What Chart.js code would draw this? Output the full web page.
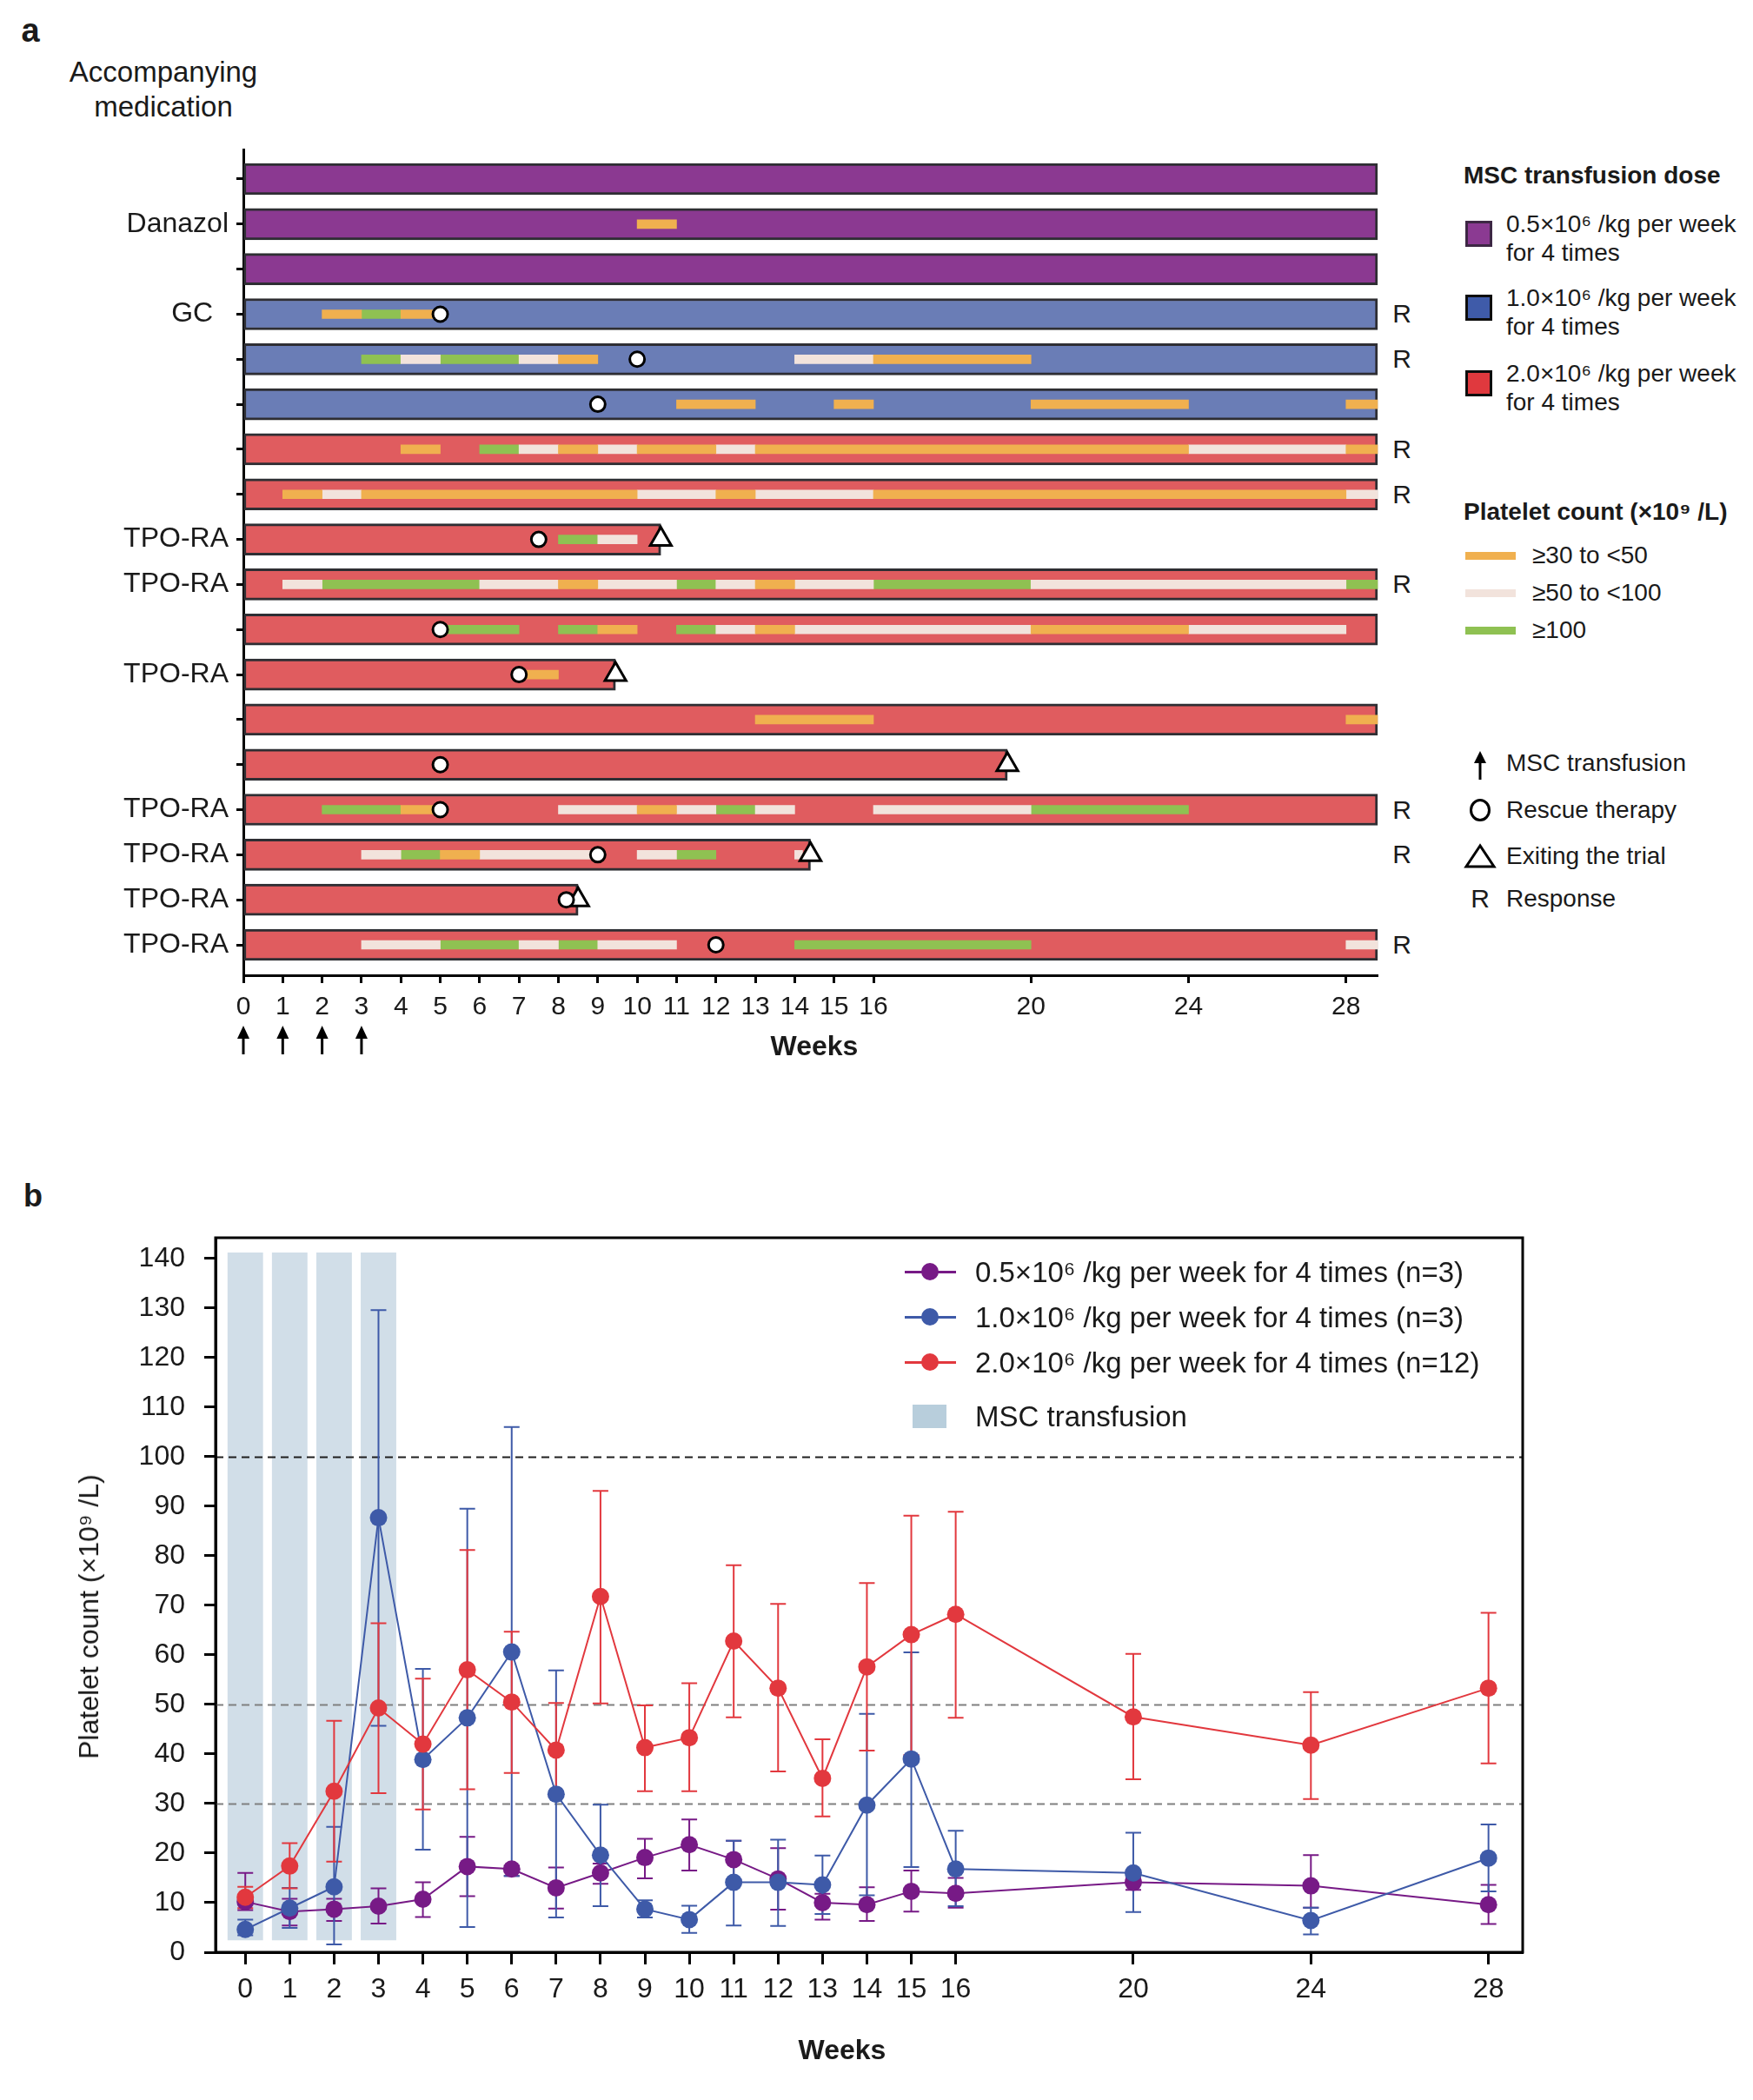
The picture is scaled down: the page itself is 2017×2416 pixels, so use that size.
<!DOCTYPE html>
<html>
<head>
<meta charset="utf-8">
<title>MSC transfusion: swimmer plot and platelet counts</title>
<script src="https://cdn.jsdelivr.net/npm/chart.js@4.4.1/dist/chart.umd.min.js"></script>
<style>
html,body{margin:0;padding:0;background:#ffffff;}
#page{position:relative;width:2017px;height:2416px;overflow:hidden;font-family:"Liberation Sans",Arial,Helvetica,sans-serif;color:#1a1a1a;background:#fff;}
#page canvas{position:absolute;}
.t{position:absolute;white-space:pre;line-height:1;}
.sw{position:absolute;box-sizing:border-box;}
</style>
</head>
<body>
<div id="page">
<canvas id="chartA" width="1600" height="1100" style="left:0px;top:150px;"></canvas>
<canvas id="chartB" width="2017" height="1016" style="left:0px;top:1400px;"></canvas>
</div>
<script>
// ================= Panel a data =================
const rowLabels = ['', 'Danazol', '', 'GC  ', '', '', '', '', 'TPO-RA', 'TPO-RA', '', 'TPO-RA', '', '', 'TPO-RA', 'TPO-RA', 'TPO-RA', 'TPO-RA'];
const rowDose = ['0.5','0.5','0.5','1.0','1.0','1.0','2.0','2.0','2.0','2.0','2.0','2.0','2.0','2.0','2.0','2.0','2.0','2.0'];
const rowEndWeek = [28.8,28.8,28.8,28.8,28.8,28.8,28.8,28.8,10.6,28.8,28.8,9.45,28.8,19.4,28.8,14.4,8.5,28.8];
const rowResponse = [false,false,false,true,true,false,true,true,false,true,false,false,false,false,true,true,false,true];
const rescueWeek = [null,null,null,5,10,9,null,null,7.5,null,5,7,null,5,5,9,8.2,12];
const exitWeek = [null,null,null,null,null,null,null,null,10.6,null,null,9.45,null,19.4,null,14.4,8.5,null];
// [row, fromWeek, toWeek]
const platelet30to50 = [
  [1,10,11],
  [3,2,3],[3,4,5],
  [4,8,9],[4,16,20],
  [5,11,13],[5,15,16],[5,20,24],[5,28,28.8],
  [6,4,5],[6,8,9],[6,10,12],[6,13,24],[6,28,28.8],
  [7,1,2],[7,3,10],[7,12,13],[7,16,28],
  [9,8,9],[9,13,14],
  [10,9,10],[10,13,14],[10,20,24],
  [11,7,8],
  [12,13,16],[12,28,28.8],
  [14,4,5],[14,10,11],
  [15,5,6]
];
const platelet50to100 = [
  [4,4,5],[4,7,8],[4,14,16],
  [6,7,8],[6,9,10],[6,12,13],[6,24,28],
  [7,2,3],[7,10,12],[7,13,16],[7,28,28.8],
  [8,9,10],
  [9,1,2],[9,6,8],[9,9,11],[9,12,13],[9,14,16],[9,20,28],
  [10,12,13],[10,14,20],[10,24,28],
  [14,8,10],[14,11,12],[14,13,14],[14,16,20],
  [15,3,4],[15,6,8.85],[15,10,11],[15,14,14.2],
  [17,3,5],[17,7,8],[17,9,11],[17,28,28.8]
];
const platelet100 = [
  [3,3,4],
  [4,3,4],[4,5,7],
  [6,6,7],
  [8,8,9],
  [9,2,6],[9,11,12],[9,16,20],[9,28,28.8],
  [10,5,7],[10,8,9],[10,11,12],
  [14,2,4],[14,12,13],[14,20,24],
  [15,4,5],[15,11,12],
  [17,5,7],[17,8,9],[17,14,20]
];
const weekTicksA = [0,1,2,3,4,5,6,7,8,9,10,11,12,13,14,15,16,20,24,28];
const transfusionWeeks = [0,1,2,3];

// ================= Panel b data =================
const weeksB = [0,1,2,3,4,5,6,7,8,9,10,11,12,13,14,15,16,20,24,28];
const mean05 = [10.2,8.2,8.7,9.3,10.7,17.3,16.8,13.0,16.0,19.1,21.7,18.7,14.8,10.0,9.6,12.3,11.9,14.1,13.4,9.6];
const low05  = [8.5,5.4,6.3,5.8,7.1,11.3,15.4,8.8,13.8,14.9,16.5,14.7,8.6,6.6,6.3,8.2,9.0,12.6,9.0,5.7];
const high05 = [16.0,10.8,10.8,12.9,14.1,23.3,17.5,17.1,17.9,22.9,26.8,22.5,21.0,11.8,13.1,16.5,15.0,15.0,19.6,13.6];
const mean10 = [4.6,8.9,13.2,87.7,38.9,47.3,60.6,31.9,19.6,8.7,6.6,14.1,14.1,13.6,29.7,39.0,16.8,16.0,6.4,19.0];
const low10  = [3.4,4.9,1.6,45.7,20.7,5.1,15.4,7.0,9.3,7.0,3.9,5.4,5.3,7.7,11.5,17.2,9.3,8.1,3.6,12.3];
const high10 = [6.6,13.0,25.3,129.6,57.2,89.5,106.0,56.9,29.8,10.5,9.4,22.5,22.7,19.5,48.1,60.5,24.5,24.1,9.0,25.8];
const mean20 = [11.1,17.4,32.5,49.3,42.0,57.0,50.5,40.8,71.8,41.3,43.3,62.8,53.3,35.1,57.6,64.1,68.2,47.5,41.8,53.3];
const low20  = [8.9,12.9,18.3,32.1,28.8,32.9,36.2,31.5,50.2,32.5,32.5,47.4,36.5,27.4,40.7,39.8,47.3,34.9,30.9,38.1];
const high20 = [13.2,22.0,46.7,66.4,55.2,81.2,64.7,50.3,93.1,49.8,54.3,78.1,70.3,43.0,74.5,88.1,88.9,60.2,52.5,68.5];
const yTicksB = [0,10,20,30,40,50,60,70,80,90,100,110,120,130,140];
const thresholdsB = [30,50,100];
const seriesNamesB = ['0.5×10⁶ /kg per week for 4 times (n=3)','1.0×10⁶ /kg per week for 4 times (n=3)','2.0×10⁶ /kg per week for 4 times (n=12)'];

// ================= helpers =================
const FONT = "'Liberation Sans', Arial, Helvetica, sans-serif";
Chart.defaults.font.family = FONT;
Chart.defaults.color = '#1a1a1a';
const page = document.getElementById('page');
function addText(s, x, y, size, o) {
  o = o || {};
  const d = document.createElement('div');
  d.className = 't';
  d.textContent = s;
  d.style.left = x + 'px';
  d.style.top = y + 'px';
  d.style.fontSize = size + 'px';
  if (o.bold) d.style.fontWeight = 'bold';
  const ax = o.align === 'center' ? '-50%' : (o.align === 'right' ? '-100%' : '0');
  d.style.transform = 'translate(' + ax + ',-50%)' + (o.rotate ? ' rotate(' + o.rotate + 'deg)' : '');
  page.appendChild(d);
  return d;
}
function addBox(x, y, w, h, css) {
  const d = document.createElement('div');
  d.className = 'sw';
  d.style.left = x + 'px'; d.style.top = y + 'px';
  d.style.width = w + 'px'; d.style.height = h + 'px';
  Object.assign(d.style, css || {});
  page.appendChild(d);
  return d;
}
function addSvg(x, y, w, h, inner) {
  const d = document.createElement('div');
  d.style.position = 'absolute';
  d.style.left = x + 'px'; d.style.top = y + 'px';
  d.innerHTML = '<svg width="' + w + '" height="' + h + '" xmlns="http://www.w3.org/2000/svg">' + inner + '</svg>';
  page.appendChild(d);
}
function zeroPad(s) { s.paddingTop = 0; s.paddingBottom = 0; s.paddingLeft = 0; s.paddingRight = 0; }

// ================= Panel a chart =================
const doseFill = {'0.5': '#8b3991', '1.0': '#6a7db6', '2.0': '#e05c5f'};
const segData = list => list.map(([r, s, e]) => ({x: [s, e], y: r}));

const arrowsPlugin = {
  id: 'transfusionArrows',
  afterDraw(chart) {
    const ctx = chart.ctx, xs = chart.scales.x;
    const top = chart.chartArea.bottom + 58, bot = top + 33;
    ctx.save();
    ctx.strokeStyle = '#000'; ctx.fillStyle = '#000'; ctx.lineWidth = 3;
    transfusionWeeks.forEach(w => {
      const x = xs.getPixelForValue(w);
      ctx.beginPath(); ctx.moveTo(x, bot); ctx.lineTo(x, top + 10); ctx.stroke();
      ctx.beginPath(); ctx.moveTo(x, top); ctx.lineTo(x - 7, top + 15); ctx.lineTo(x + 7, top + 15); ctx.closePath(); ctx.fill();
    });
    ctx.restore();
  }
};

const chartA = new Chart(document.getElementById('chartA'), {
  type: 'bar',
  data: {
    datasets: [
      {
        type: 'scatter', label: 'Rescue therapy',
        data: rescueWeek.map((w, i) => w === null ? null : {x: w, y: i}).filter(p => p),
        pointStyle: 'circle', pointRadius: 8.5, pointBackgroundColor: '#ffffff',
        pointBorderColor: '#000000', pointBorderWidth: 3, order: 0, clip: false
      },
      {
        type: 'scatter', label: 'Exiting the trial',
        data: exitWeek.map((w, i) => w === null ? null : {x: w, y: i}).filter(p => p),
        pointStyle: 'triangle', pointRadius: 14, pointBackgroundColor: '#ffffff',
        pointBorderColor: '#000000', pointBorderWidth: 3, order: 0, clip: false
      },
      {
        label: '≥30 to <50', data: segData(platelet30to50), backgroundColor: '#f0b04f',
        borderWidth: 0, grouped: false, barThickness: 10, order: 1, clip: false
      },
      {
        label: '≥50 to <100', data: segData(platelet50to100), backgroundColor: '#f2e3dc',
        borderWidth: 0, grouped: false, barThickness: 10, order: 1, clip: false
      },
      {
        label: '≥100', data: segData(platelet100), backgroundColor: '#8fc152',
        borderWidth: 0, grouped: false, barThickness: 10, order: 1, clip: false
      },
      {
        label: 'MSC transfusion dose', data: rowEndWeek.map((e, i) => ({x: [0, e], y: i})),
        backgroundColor: rowDose.map(d => doseFill[d]), borderColor: '#2e2e33', borderWidth: 3,
        borderSkipped: false, grouped: false, barThickness: 36, order: 2, clip: false
      }
    ]
  },
  options: {
    indexAxis: 'y',
    responsive: false,
    animation: false,
    events: [],
    layout: {padding: {left: 0, right: 15, top: 22, bottom: 0}, autoPadding: false},
    plugins: {legend: {display: false}, tooltip: {enabled: false}},
    scales: {
      x: {
        type: 'linear', position: 'bottom', min: 0, max: 28.8, offset: false,
        afterBuildTicks: s => { s.ticks = weekTicksA.map(v => ({value: v})); },
        afterFit: s => { s.height = 128; zeroPad(s); },
        border: {display: true, color: '#000', width: 3},
        grid: {drawOnChartArea: false, drawTicks: true, tickLength: 9, tickWidth: 3, tickColor: '#000', offset: false},
        ticks: {font: {size: 30}, color: '#1a1a1a', padding: 10, maxRotation: 0, autoSkip: false}
      },
      y: {
        type: 'linear', position: 'left', reverse: true, min: -0.656, max: 17.675, offset: false,
        afterBuildTicks: s => { s.ticks = rowLabels.map((_, i) => ({value: i})); },
        afterFit: s => { s.width = 280; zeroPad(s); },
        border: {display: true, color: '#000', width: 3},
        grid: {drawOnChartArea: false, drawTicks: true, tickLength: 8, tickWidth: 3, tickColor: '#000', offset: false},
        ticks: {callback: v => rowLabels[v] !== undefined ? rowLabels[v] : '', font: {size: 32}, color: '#1a1a1a', padding: 9, autoSkip: false}
      }
    }
  },
  plugins: [arrowsPlugin]
});

// ================= Panel b chart =================
const seriesB = [
  {name: seriesNamesB[0], mean: mean05, low: low05, high: high05, color: '#771a86'},
  {name: seriesNamesB[1], mean: mean10, low: low10, high: high10, color: '#3e5aa8'},
  {name: seriesNamesB[2], mean: mean20, low: low20, high: high20, color: '#e2383e'}
];
const SHADE_INDEX = 3;
const bPlugin = {
  id: 'bExtras',
  afterDatasetDraw(chart, args) {
    if (args.index !== SHADE_INDEX) return;
    const ctx = chart.ctx, a = chart.chartArea, xs = chart.scales.x, ys = chart.scales.y;
    ctx.save();
    ctx.lineWidth = 2;
    ctx.setLineDash([9, 6]);
    thresholdsB.forEach(v => {
      ctx.strokeStyle = v === 100 ? '#1f1f1f' : '#808080';
      const py = Math.round(ys.getPixelForValue(v)) + 0.5;
      ctx.beginPath(); ctx.moveTo(a.left, py); ctx.lineTo(a.right, py); ctx.stroke();
    });
    ctx.setLineDash([]);
    ctx.lineWidth = 2;
    seriesB.forEach(s => {
      ctx.strokeStyle = s.color;
      s.mean.forEach((m, i) => {
        const px = xs.getPixelForValue(weeksB[i]);
        const p1 = ys.getPixelForValue(s.low[i]), p2 = ys.getPixelForValue(s.high[i]);
        ctx.beginPath();
        ctx.moveTo(px, p1); ctx.lineTo(px, p2);
        ctx.moveTo(px - 9, p1); ctx.lineTo(px + 9, p1);
        ctx.moveTo(px - 9, p2); ctx.lineTo(px + 9, p2);
        ctx.stroke();
      });
    });
    ctx.restore();
  },
  afterDraw(chart) {
    const ctx = chart.ctx, a = chart.chartArea;
    ctx.save();
    ctx.strokeStyle = '#000'; ctx.lineWidth = 3;
    ctx.strokeRect(a.left, a.top, a.right - a.left, a.bottom - a.top);
    ctx.restore();
  }
};
const lineDs = (s, order) => ({
  type: 'line', label: s.name,
  data: weeksB.map((w, i) => ({x: w, y: s.mean[i]})),
  borderColor: s.color, backgroundColor: s.color, borderWidth: 2, tension: 0,
  pointRadius: 10, pointBackgroundColor: s.color, pointBorderWidth: 0, order: order, clip: false
});
const chartB = new Chart(document.getElementById('chartB'), {
  type: 'line',
  data: {
    datasets: [
      lineDs(seriesB[2], 0),
      lineDs(seriesB[1], 1),
      lineDs(seriesB[0], 2),
      {
        type: 'bar', label: 'MSC transfusion',
        data: transfusionWeeks.map(w => ({x: w, y: [2.4, 141.2]})),
        backgroundColor: '#d1dee8', borderWidth: 0,
        categoryPercentage: 1, barPercentage: 0.8, order: 5
      }
    ]
  },
  options: {
    responsive: false,
    animation: false,
    events: [],
    layout: {padding: {left: 0, right: 265, top: 24, bottom: 0}, autoPadding: false},
    plugins: {legend: {display: false}, tooltip: {enabled: false}},
    scales: {
      x: {
        type: 'linear', position: 'bottom', min: -0.67, max: 28.77, offset: false,
        afterBuildTicks: s => { s.ticks = weeksB.map(v => ({value: v})); },
        afterFit: s => { s.height = 170; zeroPad(s); },
        border: {display: true, color: '#000', width: 3},
        grid: {drawOnChartArea: false, drawTicks: true, tickLength: 14, tickWidth: 3, tickColor: '#000', offset: false},
        ticks: {font: {size: 32}, color: '#1a1a1a', padding: 10, maxRotation: 0, autoSkip: false}
      },
      y: {
        type: 'linear', position: 'left', min: 0, max: 144.2, offset: false,
        afterBuildTicks: s => { s.ticks = yTicksB.map(v => ({value: v})); },
        afterFit: s => { s.width = 248; zeroPad(s); },
        border: {display: true, color: '#000', width: 3},
        grid: {drawOnChartArea: false, drawTicks: true, tickLength: 13, tickWidth: 3, tickColor: '#000', offset: false},
        ticks: {font: {size: 32}, color: '#1a1a1a', padding: 22, autoSkip: false}
      }
    }
  },
  plugins: [bPlugin]
});

// ================= HTML text: panel a =================
addText('a', 35, 35, 38, {bold: true, align: 'center'});
addText('Accompanying', 188, 82, 33, {align: 'center'});
addText('medication', 188, 122, 33, {align: 'center'});
addText('Weeks', 937, 1203, 32, {bold: true, align: 'center'});
// response labels, placed through the chart's scales
rowResponse.forEach((r, i) => {
  if (!r) return;
  const x = chartA.scales.x.getPixelForValue(28.8) + 28;
  const y = 150 + chartA.scales.y.getPixelForValue(i);
  addText('R', x, y, 30, {align: 'center'});
});
// legend: dose
addText('MSC transfusion dose', 1684, 202, 28, {bold: true});
const doseLegend = [
  {c: '#8b3a92', b: '#3d2744', l1: '0.5×10⁶ /kg per week', y: 254},
  {c: '#3f5ba9', b: '#0d0d0d', l1: '1.0×10⁶ /kg per week', y: 339},
  {c: '#e0393e', b: '#0d0d0d', l1: '2.0×10⁶ /kg per week', y: 426}
];
doseLegend.forEach(d => {
  addBox(1686, d.y, 31, 30, {background: d.c, border: '3px solid ' + d.b});
  addText(d.l1, 1733, d.y + 4, 28);
  addText('for 4 times', 1733, d.y + 37, 28);
});
// legend: platelet count
addText('Platelet count (×10⁹ /L)', 1684, 589, 28, {bold: true});
[['#f0b04f', '≥30 to <50', 639], ['#f2e3dc', '≥50 to <100', 682], ['#8fc152', '≥100', 725]].forEach(p => {
  addBox(1686, p[2] - 4.5, 58, 9, {background: p[0]});
  addText(p[1], 1763, p[2], 28);
});
// legend: symbols
addSvg(1690, 862, 26, 36, '<line x1="13" y1="12" x2="13" y2="35" stroke="#000" stroke-width="3"/><polygon points="13,2 6,16 20,16" fill="#000"/>');
addText('MSC transfusion', 1733, 878, 28);
addSvg(1689, 918, 28, 28, '<ellipse cx="14" cy="14" rx="10.5" ry="11.5" fill="#fff" stroke="#000" stroke-width="3"/>');
addText('Rescue therapy', 1733, 932, 28);
addSvg(1684, 970, 38, 30, '<polygon points="19,3 3,27 35,27" fill="#fff" stroke="#000" stroke-width="3" stroke-linejoin="miter"/>');
addText('Exiting the trial', 1733, 985, 28);
addText('R', 1703, 1034, 30, {align: 'center'});
addText('Response', 1733, 1034, 28);

// ================= HTML text: panel b =================
addText('b', 38, 1376, 36, {bold: true, align: 'center'});
addText('Platelet count (×10⁹ /L)', 102, 1860, 32, {align: 'center', rotate: -90});
addText('Weeks', 969, 2358, 32, {bold: true, align: 'center'});
const legendRowsB = [1463, 1515, 1567];
seriesB.forEach((s, k) => {
  const y = legendRowsB[k];
  addBox(1041, y - 1.5, 59, 3, {background: s.color});
  addBox(1060, y - 10, 20, 20, {background: s.color, borderRadius: '50%'});
  addText(s.name, 1122, y, 33);
});
addBox(1050, 1616, 39, 27, {background: '#b8cedc'});
addText('MSC transfusion', 1122, 1629, 33);
</script>
</body>
</html>
